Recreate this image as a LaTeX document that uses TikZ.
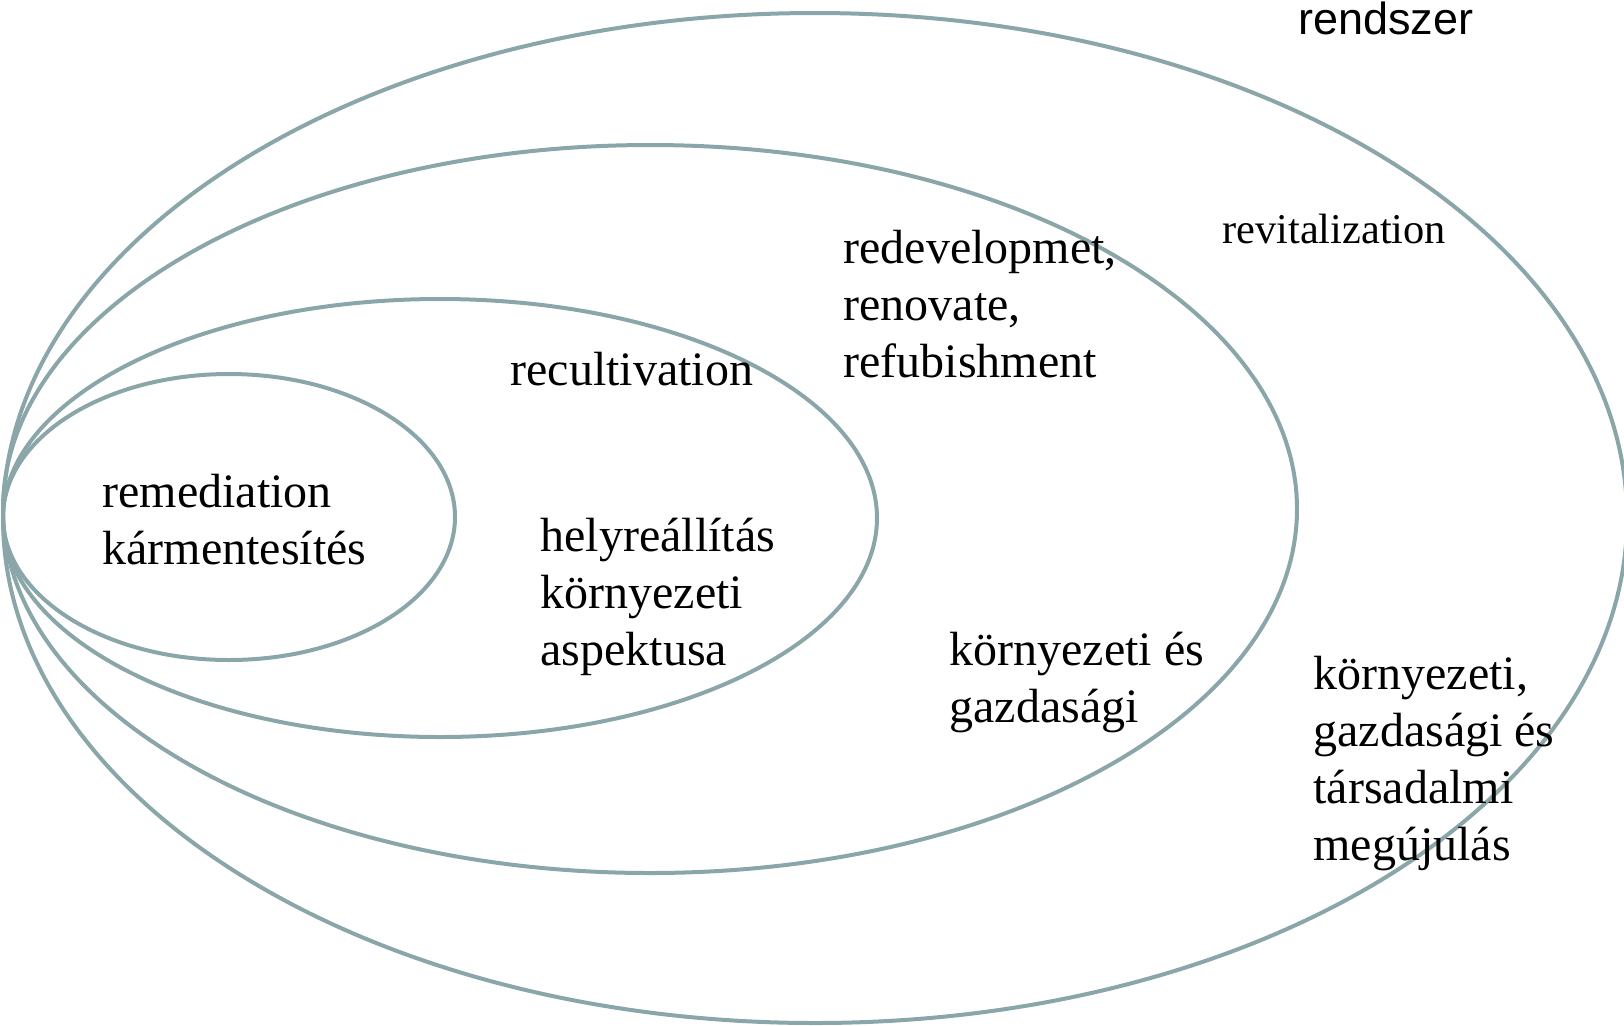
\documentclass[tikz,border=0pt]{standalone}
\usepackage{fontspec}
\setmainfont{Liberation Serif}
\setsansfont{Liberation Sans}
\definecolor{rim}{RGB}{138,166,169}

\begin{document}
\begin{tikzpicture}[x=0.5pt,y=-0.5pt,
  ring/.style={draw=rim,line width=2pt},
  txt/.style={anchor=base west,inner sep=0pt,align=left,font=\fontsize{24}{28.5}\selectfont}]
\useasboundingbox (0,0) rectangle (1624,1025);
\draw [ring] (229,517) ellipse [x radius=113pt,y radius=71.5pt];
\draw [ring] (440,518) ellipse [x radius=218.5pt,y radius=109.5pt];
\draw [ring] (650,509) ellipse [x radius=323.5pt,y radius=182pt];
\draw [ring] (815,518) ellipse [x radius=406pt,y radius=252.5pt];
% base anchor of a multi-line node sits on its last line
\node (rendszer) at (1298,34) [txt,font=\sffamily\fontsize{22.5}{27}\selectfont] {rendszer};
\node (revital)  at (1222,243) [txt,font=\fontsize{21.2}{25}\selectfont] {revitalization};
\node (redevel)  at (843,377) [txt] {redevelopmet,\\renovate,\\refubishment};
\node (recult)   at (510,385) [txt] {recultivation};
\node (remed)    at (102,564) [txt] {remediation\\kármentesítés};
\node (helyre)   at (540,665) [txt] {helyreállítás\\környezeti\\aspektusa};
\node (kgazd)    at (949,722) [txt] {környezeti és\\gazdasági};
\node (kgtars)   at (1313,860) [txt] {környezeti,\\gazdasági és\\társadalmi\\megújulás};
\end{tikzpicture}
\end{document}
